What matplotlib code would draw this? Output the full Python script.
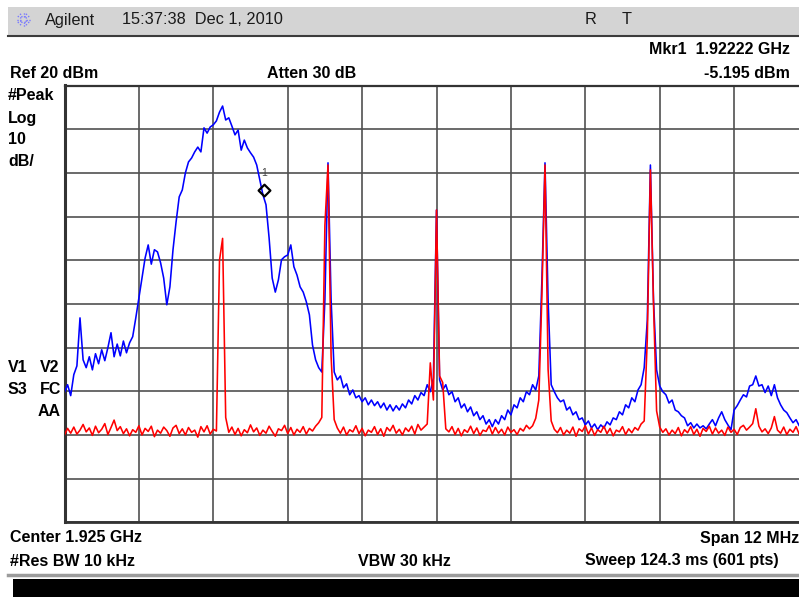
import numpy as np
import matplotlib
matplotlib.use("Agg")
import matplotlib.pyplot as plt
from matplotlib.patches import Rectangle
from matplotlib.path import Path

plt.rcParams['font.family'] = ['Liberation Sans', 'DejaVu Sans']

# ---- sweep settings ----
f_start_mhz = 1919.0
f_stop_mhz = 1931.0
step_mhz = 0.05
ref_level_dbm = 20
db_per_div = 10

# trace 1 (max hold, blue), dBm per sweep point
blue_dbm = [
    -50.2, -48.5, -51.0, -46.2, -44.2, -33.2, -42.8, -44.6, -42.1, -45.1,
    -41.4, -43.7, -40.5, -43.0, -40.0, -36.6, -42.1, -39.2, -41.9, -38.5,
    -41.2, -38.9, -37.5, -33.2, -28.6, -24.1, -19.5, -16.5, -20.9, -17.6,
    -18.1, -20.6, -24.1, -30.2, -26.1, -17.6, -11.2, -5.5, -3.9, 0.0,
    2.5, 3.4, 4.8, 5.9, 4.8, 10.3, 9.1, 10.5, 11.0, 11.9,
    13.9, 15.3, 12.1, 12.6, 10.7, 8.7, 9.8, 5.2, 7.5, 5.7,
    4.6, 3.6, 1.8, -1.6, -5.0, -7.3, -14.9, -24.1, -27.3, -24.5,
    -19.9, -19.2, -18.8, -16.5, -21.5, -23.4, -26.1, -27.3, -29.5, -32.5,
    -39.4, -42.8, -44.6, -45.6, -29.1, 2.3, -29.1, -45.6, -47.4, -46.5,
    -49.2, -48.3, -50.8, -49.7, -51.5, -51.0, -52.4, -51.5, -53.1, -52.0,
    -53.3, -52.4, -53.8, -52.7, -54.3, -53.1, -54.5, -53.3, -54.3, -52.9,
    -53.8, -52.0, -52.9, -51.0, -52.0, -50.3, -51.0, -48.5, -50.1, -47.0,
    -8.5, -47.4, -49.7, -48.5, -50.8, -50.1, -52.4, -51.5, -53.8, -52.9,
    -54.7, -53.6, -55.6, -54.7, -56.5, -55.6, -57.5, -56.5, -58.1, -56.5,
    -57.5, -55.6, -56.5, -54.3, -55.4, -53.1, -53.8, -51.5, -52.4, -50.1,
    -50.8, -48.5, -49.7, -46.5, -24.5, 2.3, -29.1, -48.5, -50.1, -51.5,
    -52.4, -52.0, -54.3, -53.6, -55.4, -54.7, -56.5, -56.1, -57.7, -56.8,
    -58.4, -57.5, -58.8, -57.7, -58.4, -57.0, -57.7, -56.1, -56.5, -54.7,
    -55.4, -53.1, -53.8, -51.5, -52.4, -49.7, -48.5, -44.6, -33.7, 1.8,
    -29.1, -45.1, -48.8, -50.1, -50.8, -52.7, -52.0, -54.3, -54.7, -55.6,
    -56.1, -57.9, -57.2, -58.4, -57.5, -58.4, -57.9, -58.6, -57.5, -56.5,
    -57.9, -56.1, -54.7, -56.5, -57.7, -58.8, -54.3, -53.3, -52.0, -50.8,
    -51.3, -48.8, -48.5, -46.5, -48.8, -48.5, -50.3, -48.8, -51.0, -48.5,
    -51.5, -53.1, -54.3, -54.9, -56.1, -57.2, -56.5, -57.9, -58.4, -58.8,
    -58.4,
]

# trace 2 (clear write, red), dBm per sweep point
red_dbm = [
    -60.0, -58.5, -59.6, -58.2, -59.8, -58.9, -57.6, -59.3, -58.4, -60.1,
    -58.0, -59.5, -58.7, -57.4, -59.9, -58.3, -56.6, -59.0, -58.1, -59.7,
    -58.6, -60.2, -58.8, -59.4, -57.9, -60.0, -58.5, -59.2, -58.0, -60.4,
    -58.9, -59.6, -58.2, -59.0, -60.3, -58.4, -57.8, -59.7, -58.6, -60.0,
    -58.3, -59.4, -58.9, -60.5, -58.1, -59.3, -57.9, -59.8, -58.7, -59.1,
    -20.0, -15.0, -56.0, -59.4, -58.2, -59.9, -58.5, -60.2, -58.8, -59.5,
    -57.7, -59.3, -58.4, -60.1, -58.9, -59.6, -58.0, -59.2, -60.3, -58.6,
    -59.0, -57.8, -59.7, -58.3, -60.0, -58.7, -59.4, -58.1, -59.8, -58.5,
    -59.1, -58.0, -57.2, -56.0, -12.0, 1.8, -42.0, -56.5, -58.4, -59.6,
    -58.2, -60.0, -58.8, -59.3, -57.9, -59.7, -58.5, -60.2, -58.9, -59.4,
    -58.1, -59.9, -58.6, -60.3, -58.3, -59.1, -57.8, -59.6, -58.7, -60.0,
    -58.4, -59.2, -58.0, -59.8, -57.6, -58.9, -58.2, -57.5, -43.5, -52.0,
    -8.5, -46.5, -48.0, -58.6, -59.3, -58.1, -59.9, -58.5, -60.2, -58.8,
    -59.4, -58.0, -59.7, -58.4, -60.1, -58.9, -59.2, -57.9, -59.8, -58.3,
    -59.6, -58.7, -60.0, -58.2, -59.4, -58.8, -59.9, -58.5, -59.1, -57.8,
    -58.6, -57.9, -56.2, -52.0, -28.0, 1.8, -45.0, -56.8, -58.7, -59.5,
    -58.3, -60.0, -58.9, -59.6, -58.2, -60.3, -58.6, -59.2, -57.9, -59.8,
    -58.4, -60.1, -58.8, -59.4, -58.0, -59.7, -58.5, -60.2, -58.9, -59.3,
    -58.1, -59.9, -58.6, -59.5, -58.3, -58.9, -57.5, -56.8, -38.0, 0.7,
    -30.0, -54.5, -58.2, -59.4, -58.6, -60.0, -58.9, -59.7, -58.3, -60.2,
    -58.8, -59.5, -58.1, -59.9, -58.7, -60.3, -58.5, -59.2, -58.0, -59.8,
    -58.4, -59.6, -58.9, -60.1, -58.2, -59.4, -58.7, -59.9, -58.3, -57.8,
    -58.9, -58.2, -57.4, -54.0, -58.0, -59.3, -58.6, -59.7, -58.4, -55.8,
    -58.9, -59.6, -58.2, -59.9, -58.7, -59.4, -58.1, -59.8, -58.6, -59.3,
    -58.8,
]

freq_mhz = f_start_mhz + step_mhz * np.arange(len(blue_dbm))

# marker 1
mkr_freq_mhz = 1922.22
mkr_level_dbm = -5.195

# ---- figure ----
W, H = 799, 597
fig = plt.figure(figsize=(W / 100, H / 100), dpi=100)

# screen layer, pixel coordinates
page = fig.add_axes([0, 0, 1, 1])
page.set_xlim(0, W)
page.set_ylim(H, 0)
page.axis('off')

# title bar
page.add_patch(Rectangle((8, 7), W - 8, 28, facecolor='#d4d4d4', edgecolor='none'))
page.plot([8, W], [35.5, 35.5], color='#3c3c3c', lw=1.5)
# logo burst
for ang in np.arange(0, 360, 30):
    a = np.deg2rad(ang)
    page.plot([23.5 + 2.5 * np.cos(a), 23.5 + 7.5 * np.cos(a)],
              [19.5 + 2.5 * np.sin(a), 19.5 + 7.5 * np.sin(a)],
              color='#7a7aff', lw=1.0, ls=(0, (1, 1)))
reg = dict(fontsize=11.8, color='#1a1a1a', va='center', ha='left')
page.text(45, 20, 'Agilent', **reg)
page.text(122, 20, '15:37:38  Dec 1, 2010', **reg)
page.text(585, 20, 'R', **reg)
page.text(622, 20, 'T', **reg)

bold = dict(fontsize=11.5, fontweight='bold', color='black', va='center')
page.text(790, 50, 'Mkr1  1.92222 GHz', ha='right', **bold)
page.text(790, 74, '-5.195 dBm', ha='right', **bold)
page.text(10, 74, 'Ref 20 dBm', ha='left', **bold)
page.text(267, 74, 'Atten 30 dB', ha='left', **bold)

for txt, yy in [('#Peak', 96), ('Log', 118), ('10', 139.5), ('dB/', 161)]:
    page.text(8, yy, txt, ha='left', **bold)
page.text(8, 367.5, 'V1', ha='left', **bold)
page.text(40, 367.5, 'V2', ha='left', **bold)
page.text(8, 389, 'S3', ha='left', **bold)
page.text(40, 389, 'FC', ha='left', **bold)
page.text(38, 411, 'AA', ha='left', **bold)

page.text(10, 538, 'Center 1.925 GHz', ha='left', **bold)
page.text(700, 538, 'Span 12 MHz', ha='left', **bold)
page.text(10, 561, '#Res BW 10 kHz', ha='left', **bold)
page.text(358, 561, 'VBW 30 kHz', ha='left', **bold)
page.text(585, 561, 'Sweep 124.3 ms (601 pts)', ha='left', **bold)
page.text(788, 110, '*', ha='center', va='center', fontsize=9, color='#333333')

# bottom bars
page.plot([8, W], [575, 575], color='#9c9c9c', lw=2.5)
page.add_patch(Rectangle((13, 578.5), W - 13, H - 578.5, facecolor='black', edgecolor='none'))

# ---- trace graticule ----
left_px, right_px = 64.5, 64.5 + 744
top_px, bot_px = 85.5, 522.3
ax = fig.add_axes([left_px / W, (H - bot_px) / H, (right_px - left_px) / W, (bot_px - top_px) / H])
ax.set_xlim(f_start_mhz, f_stop_mhz)
ax.set_ylim(ref_level_dbm - 10 * db_per_div, ref_level_dbm)
ax.set_xticks(np.linspace(f_start_mhz, f_stop_mhz, 11))
ax.set_yticks(np.arange(ref_level_dbm - 10 * db_per_div, ref_level_dbm + 1, db_per_div))
ax.tick_params(length=0, labelbottom=False, labelleft=False)
ax.grid(True, color='#505050', lw=1.2)
ax.set_axisbelow(True)
ax.set_facecolor('white')
ax.spines['left'].set_linewidth(2.2)
ax.spines['bottom'].set_linewidth(2.0)
ax.spines['top'].set_linewidth(1.6)
for s in ('left', 'bottom', 'top'):
    ax.spines[s].set_color('#333333')
ax.spines['right'].set_visible(False)

ax.plot(freq_mhz, blue_dbm, color='#0000ff', lw=1.15, zorder=3)
ax.plot(freq_mhz, red_dbm, color='#ff0000', lw=1.15, zorder=4)

# marker diamond sitting on the trace point
diamond = Path([(0, 0), (1, 1), (0, 2), (-1, 1), (0, 0)],
               [Path.MOVETO, Path.LINETO, Path.LINETO, Path.LINETO, Path.CLOSEPOLY])
ax.plot([mkr_freq_mhz], [mkr_level_dbm], marker=diamond, ms=17, mfc='none',
        mec='black', mew=1.6, ls='none', zorder=5)
ax.annotate('1', (mkr_freq_mhz, mkr_level_dbm), xytext=(0, 16), textcoords='offset points',
            ha='center', va='center', fontsize=7.5, color='#444444', zorder=5)

fig.savefig('out.png', dpi=100)
